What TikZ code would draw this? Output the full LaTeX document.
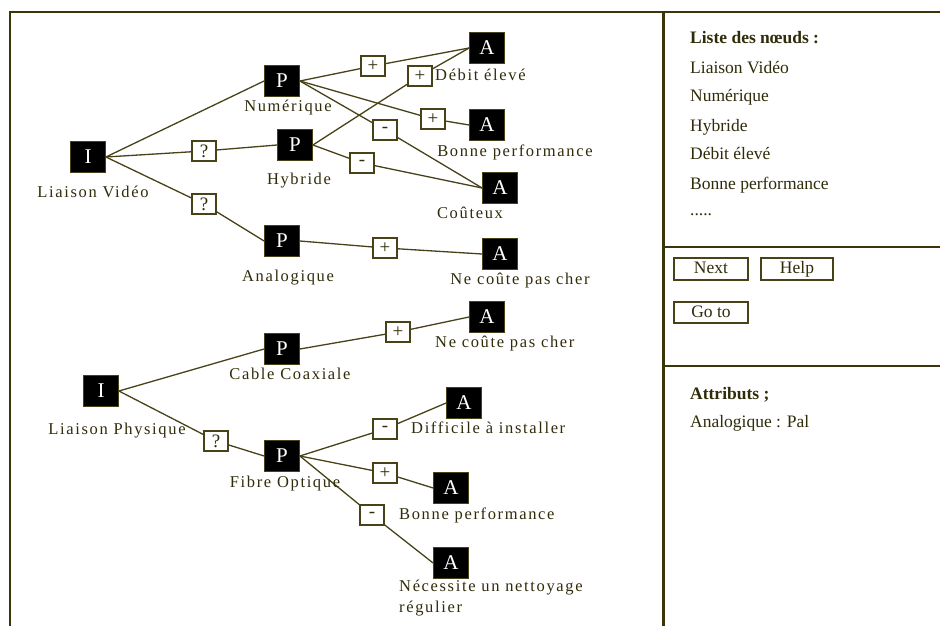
\documentclass[tikz,border=0pt]{standalone}
\usepackage{fontspec}
\setmainfont{Liberation Serif}
\newfontfamily\treefont[LetterSpace=10]{Liberation Serif}
\definecolor{ink}{RGB}{48,44,10}
\definecolor{olive}{RGB}{72,66,24}
\definecolor{frame}{RGB}{58,54,10}

\begin{document}
\begin{tikzpicture}[x=1pt,y=-1pt,
  blk/.style={draw=olive, line width=0.8pt, fill=black, text=white,
    minimum width=35pt, minimum height=31pt, inner sep=0pt,
    font=\fontsize{21}{22}\selectfont},
  tag/.style={draw=olive, line width=1.1pt, fill=white, text=ink,
    minimum width=24pt, minimum height=20pt, inner sep=0pt,
    font=\fontsize{19}{20}\selectfont},
  lbl/.style={text=ink, inner sep=0pt, text height=11pt, text depth=4pt,
    font=\treefont\fontsize{16.5}{21}\selectfont},
  side/.style={text=ink, inner sep=0pt, anchor=west, text height=12pt, text depth=4pt,
    font=\fontsize{17.5}{20}\selectfont},
  btn/.style={draw=olive, line width=1.3pt, text=ink, minimum height=22pt,
    minimum width=74pt, inner sep=0pt, text height=12pt, text depth=3pt,
    font=\fontsize{17.5}{20}\selectfont},
  link/.style={draw=olive, line width=1.3pt},
  rule/.style={draw=frame, line width=2pt}
]
\useasboundingbox (0,0) rectangle (940,626);
\fill[white] (0,0) rectangle (940,626);

% window frame and panel dividers
\draw[rule, line width=1.6pt] (10,626) -- (10,12) -- (940,12);
\draw[rule, line width=3pt] (663,12) -- (663,626);
\draw[rule] (663,247) -- (940,247);
\draw[rule] (663,366) -- (940,366);

% ---------- tree 1: Liaison Video ----------
\node[blk] (I1) at (88,157) {I};
\node[blk] (Pn) at (282,81) {P};
\node[blk] (Ph) at (295,145) {P};
\node[blk] (Pa) at (282,241) {P};
\node[blk] (A1) at (487,48) {A};
\node[blk] (A2) at (487,125) {A};
\node[blk] (A3) at (500,188) {A};
\node[blk] (A4) at (500,254) {A};

\node[tag] (q1) at (204,151) {?};
\node[tag] (q2) at (204,204) {?};
\node[tag] (b1) at (373,66) {+};
\node[tag] (b2) at (420,76) {+};
\node[tag] (b3) at (433,119) {+};
\node[tag] (b4) at (385,130) {-};
\node[tag] (b5) at (362,163) {-};
\node[tag] (b6) at (385,248) {+};

\draw[link] (I1.east) -- (Pn.west);
\draw[link] (I1.east) -- (q1) -- (Ph.west);
\draw[link] (I1.east) -- (q2) -- (Pa.west);
\draw[link] (Pn.east) -- (b1) -- (A1.west);
\draw[link] (Ph.east) -- (b2) -- (A1.west);
\draw[link] (Pn.east) -- (b3) -- (A2.west);
\draw[link] (Pn.east) -- (b4) -- (A3.west);
\draw[link] (Ph.east) -- (b5) -- (A3.west);
\draw[link] (Pa.east) -- (b6) -- (A4.west);

\node[lbl] (lI1) at (93,194) {Liaison Vidéo};
\node[lbl] (lPn) at (288,108) {Numérique};
\node[lbl] (lPh) at (299,181) {Hybride};
\node[lbl] (lPa) at (288,278) {Analogique};
\node[lbl, anchor=west] (lA1) at (435,77) {Débit élevé};
\node[lbl] (lA2) at (515,153) {Bonne performance};
\node[lbl] (lA3) at (470,215) {Coûteux};
\node[lbl] (lA4) at (520,281) {Ne coûte pas cher};

% ---------- tree 2: Liaison Physique ----------
\node[blk] (I2) at (101,391) {I};
\node[blk] (Pc) at (282,349) {P};
\node[blk] (Pf) at (282,456) {P};
\node[blk] (A5) at (487,317) {A};
\node[blk] (A6) at (464,403) {A};
\node[blk] (A7) at (451,488) {A};
\node[blk] (A8) at (451,563) {A};

\node[tag] (q3) at (216,441) {?};
\node[tag] (b7) at (398,332) {+};
\node[tag] (b8) at (385,429) {-};
\node[tag] (b9) at (385,473) {+};
\node[tag] (b10) at (372,515) {-};

\draw[link] (I2.east) -- (Pc.west);
\draw[link] (I2.east) -- (q3) -- (Pf.west);
\draw[link] (Pc.east) -- (b7) -- (A5.west);
\draw[link] (Pf.east) -- (b8) -- (A6.west);
\draw[link] (Pf.east) -- (b9) -- (A7.west);
\draw[link] (Pf.east) -- (b10) -- (A8.west);

\node[lbl] (lI2) at (117,431) {Liaison Physique};
\node[lbl] (lPc) at (290,376) {Cable Coaxiale};
\node[lbl] (lPf) at (285,484) {Fibre Optique};
\node[lbl, anchor=west] (lA5) at (435,344) {Ne coûte pas cher};
\node[lbl, anchor=west] (lA6) at (411,430) {Difficile à installer};
\node[lbl, anchor=west] (lA7) at (399,516) {Bonne performance};
\node[lbl, anchor=north west, text height=, text depth=, align=left] (lA8) at (399,580)
  {Nécessite un nettoyage\\régulier};

% ---------- side panel ----------
\node[side, font=\bfseries\fontsize{17.5}{20}\selectfont] (hd1) at (690,40) {Liste des nœuds :};
\node[side] (n1) at (690,70) {Liaison Vidéo};
\node[side] (n2) at (690,98) {Numérique};
\node[side] (n3) at (690,127) {Hybride};
\node[side] (n4) at (690,155) {Débit élevé};
\node[side] (n5) at (690,185) {Bonne performance};
\node[side] (n6) at (690,211) {.....};

\node[btn] (next) at (711,269) {Next};
\node[btn, minimum width=72pt] (help) at (797,269) {Help};
\node[btn, minimum height=21pt] (goto) at (711,312.5) {Go to};

\node[side, font=\bfseries\fontsize{17.5}{20}\selectfont] (hd2) at (690,395) {Attributs ;};
\node[side] (att) at (690,423) {Analogique : Pal};
\end{tikzpicture}
\end{document}
